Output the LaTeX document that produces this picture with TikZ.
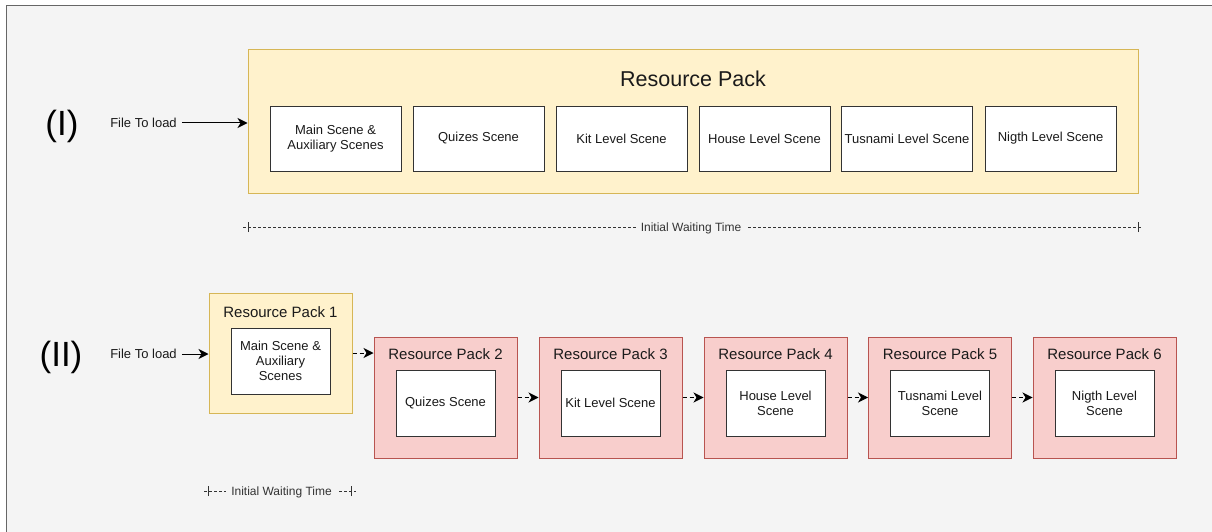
\documentclass[tikz,border=0pt]{standalone}
\usepackage{fontspec}
\setmainfont{Liberation Sans}
\usetikzlibrary{arrows.meta}
\definecolor{bgc}{HTML}{F4F4F4}
\definecolor{framec}{HTML}{666666}
\definecolor{yfill}{HTML}{FFF2CC}
\definecolor{ydraw}{HTML}{D6B656}
\definecolor{rfill}{HTML}{F8CECC}
\definecolor{rdraw}{HTML}{B85450}
\definecolor{innerc}{HTML}{333333}
\definecolor{txt}{HTML}{1A1A1A}
\tikzset{
  ypack/.style={draw=ydraw,fill=yfill,line width=1pt,rectangle,inner sep=0pt},
  rpack/.style={draw=rdraw,fill=rfill,line width=1pt,rectangle,inner sep=0pt,minimum width=143pt,minimum height=121pt},
  scenebox/.style={draw=innerc,fill=white,line width=0.9pt,rectangle,inner sep=1pt,align=center,text=txt,font=\fontsize{13}{15}\selectfont},
  bigscene/.style={scenebox,minimum width=131pt,minimum height=65pt},
  smallscene/.style={scenebox,minimum width=99pt,minimum height=66pt},
  packtitle/.style={text=txt,font=\fontsize{15}{17}\selectfont,inner sep=0pt},
  lbl/.style={text=txt,font=\fontsize{13}{15}\selectfont,inner sep=5pt},
  roman/.style={text=black,font=\fontsize{35}{39}\selectfont,inner sep=0pt},
  solidarrow/.style={draw=black,line width=1pt,-{Stealth[length=10pt,width=10pt,inset=3pt]}},
  dasharrow/.style={draw=black,line width=1pt,dash pattern=on 4pt off 3pt,-{Stealth[length=10pt,width=10pt,inset=3pt]}},
  dimline/.style={draw=innerc,line width=0.8pt,dash pattern=on 3pt off 2pt},
  dimtick/.style={draw=innerc,line width=0.9pt},
  dimlabel/.style={fill=bgc,text=innerc,inner xsep=5pt,inner ysep=3pt,font=\fontsize{12}{14}\selectfont}
}
\begin{document}
\begin{tikzpicture}[x=1pt,y=-1pt]
\useasboundingbox (0,0) rectangle (1212,532);
\fill[white] (0,0) rectangle (1212,532);
\draw[draw=framec,fill=bgc,line width=1pt] (6,6) rectangle (1230,550);

% ---------- (I) ----------
\node[roman] (rI) at (62,126) {(I)};
\node[lbl] (file1) at (143.5,123) {File To load};
\node[ypack,minimum width=890pt,minimum height=143pt] (big) at (693,121.5) {};
\node[packtitle,font=\fontsize{21.5}{25}\selectfont] (bigtitle) at (693,79) {Resource Pack};
\node[bigscene] (s1) at (335.5,138.5) {Main Scene \&\\Auxiliary Scenes};
\node[bigscene] (s2) at (478.5,138.5) {Quizes Scene};
\node[bigscene] (s3) at (621.5,138.5) {Kit Level Scene};
\node[bigscene] (s4) at (764.5,138.5) {House Level Scene};
\node[bigscene] (s5) at (907,138.5) {Tusnami Level Scene};
\node[bigscene] (s6) at (1050.5,138.5) {Nigth Level Scene};
\draw[solidarrow] (file1.east) -- (file1.east -| big.west);

% dimension line I
\coordinate (d1a) at (243,227);
\coordinate (d1b) at (1141,227);
\coordinate (t1a) at (248,227);
\coordinate (t1b) at (1138,227);
\draw[dimline] (d1a) -- (d1b);
\draw[dimtick] ([yshift=-5pt]t1a) -- ([yshift=5pt]t1a);
\draw[dimtick] ([yshift=-5pt]t1b) -- ([yshift=5pt]t1b);
\node[dimlabel] (w1) at (691,228) {Initial Waiting Time};

% ---------- (II) ----------
\node[roman] (rII) at (61,357) {(II)};
\node[lbl] (file2) at (143.5,354) {File To load};
\node[ypack,minimum width=143pt,minimum height=120pt] (p1) at (280.5,353) {};
\node[packtitle] (p1t) at (280.5,312) {Resource Pack 1};
\node[smallscene] (q1) at (280.5,361) {Main Scene \&\\Auxiliary\\Scenes};

\node[rpack] (p2) at (445.5,397.5) {};
\node[packtitle] (p2t) at (445.5,354) {Resource Pack 2};
\node[smallscene] (q2) at (445.5,403) {Quizes Scene};

\node[rpack] (p3) at (610.5,397.5) {};
\node[packtitle] (p3t) at (610.5,354) {Resource Pack 3};
\node[smallscene] (q3) at (610.5,403) {Kit Level Scene};

\node[rpack] (p4) at (775.5,397.5) {};
\node[packtitle] (p4t) at (775.5,354) {Resource Pack 4};
\node[smallscene] (q4) at (775.5,403) {House Level\\Scene};

\node[rpack] (p5) at (940,397.5) {};
\node[packtitle] (p5t) at (940,354) {Resource Pack 5};
\node[smallscene] (q5) at (940,403) {Tusnami Level\\Scene};

\node[rpack] (p6) at (1104.5,397.5) {};
\node[packtitle] (p6t) at (1104.5,354) {Resource Pack 6};
\node[smallscene] (q6) at (1104.5,403) {Nigth Level\\Scene};

\draw[solidarrow] (file2.east) -- (file2.east -| p1.west);
\draw[dasharrow] (p1.east) -- (p1.east -| p2.west);
\draw[dasharrow] (p2.east) -- (p3.west);
\draw[dasharrow] (p3.east) -- (p4.west);
\draw[dasharrow] (p4.east) -- (p5.west);
\draw[dasharrow] (p5.east) -- (p6.west);

% dimension line II
\coordinate (d2a) at (204,491);
\coordinate (d2b) at (356,491);
\coordinate (t2a) at (208,491);
\coordinate (t2b) at (351,491);
\draw[dimline] (d2a) -- (d2b);
\draw[dimtick] ([yshift=-5pt]t2a) -- ([yshift=5pt]t2a);
\draw[dimtick] ([yshift=-5pt]t2b) -- ([yshift=5pt]t2b);
\node[dimlabel] (w2) at (281.5,492) {Initial Waiting Time};
\end{tikzpicture}
\end{document}
